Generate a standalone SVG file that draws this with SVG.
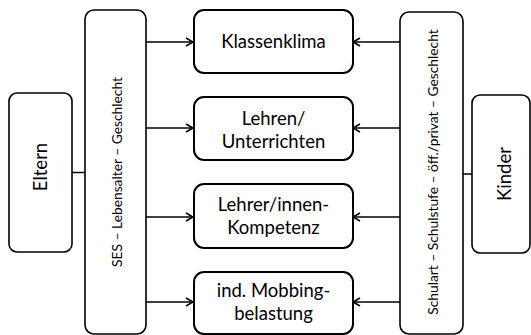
<svg xmlns="http://www.w3.org/2000/svg" width="531" height="335" viewBox="0 0 531 335">
<style>
.side{fill:#fff;stroke:#000;stroke-width:1.6}
.mid{fill:#fff;stroke:#000;stroke-width:2}
.t{font-family:Lato,"Open Sans",sans-serif;font-size:18.5px;fill:#000;text-anchor:middle}
.s{font-family:Lato,"Open Sans",sans-serif;font-size:13.8px;fill:#000;text-anchor:middle}
.c{stroke:#000;stroke-width:1.5;fill:none}
</style>
<defs>
<marker id="a" markerWidth="10" markerHeight="10" refX="8" refY="5" orient="auto" markerUnits="userSpaceOnUse">
<path d="M1,1 L8,5 L1,9" fill="none" stroke="#000" stroke-width="1.5"/>
</marker>
</defs>
<g id="connectors">
<line class="c" x1="72" y1="172.5" x2="85" y2="172.5"/>
<line class="c" x1="463" y1="174" x2="472" y2="174"/>
<line class="c" x1="146" y1="42" x2="193" y2="42" marker-end="url(#a)"/>
<line class="c" x1="146" y1="128" x2="193" y2="128" marker-end="url(#a)"/>
<line class="c" x1="146" y1="217" x2="193" y2="217" marker-end="url(#a)"/>
<line class="c" x1="146" y1="302" x2="193" y2="302" marker-end="url(#a)"/>
<line class="c" x1="400" y1="42" x2="353" y2="42" marker-end="url(#a)"/>
<line class="c" x1="400" y1="128" x2="353" y2="128" marker-end="url(#a)"/>
<line class="c" x1="400" y1="217" x2="353" y2="217" marker-end="url(#a)"/>
<line class="c" x1="400" y1="302" x2="353" y2="302" marker-end="url(#a)"/>
</g>
<g id="eltern">
<rect class="side" x="9" y="93" width="63" height="159" rx="8"/>
<text class="t" transform="translate(47,167) rotate(-90)">Eltern</text>
</g>
<g id="ses">
<rect class="side" x="85" y="10" width="61" height="324" rx="9"/>
<text class="s" transform="translate(121.5,172) rotate(-90)">SES – Lebensalter – Geschlecht</text>
</g>
<g id="klassenklima">
<rect class="mid" x="194" y="10" width="159" height="63" rx="10"/>
<text class="t" x="273.5" y="47.5">Klassenklima</text>
</g>
<g id="lehren">
<rect class="mid" x="194" y="97" width="159" height="63" rx="10"/>
<text class="t" x="273.5" y="125">Lehren/</text>
<text class="t" x="273.5" y="148">Unterrichten</text>
</g>
<g id="kompetenz">
<rect class="mid" x="194" y="184" width="159" height="64" rx="10"/>
<text class="t" x="273.5" y="211">Lehrer/innen-</text>
<text class="t" x="273.5" y="234">Kompetenz</text>
</g>
<g id="mobbing">
<rect class="mid" x="194" y="272" width="159" height="62" rx="10"/>
<text class="t" x="273.5" y="297">ind. Mobbing-</text>
<text class="t" x="273.5" y="320">belastung</text>
</g>
<g id="schule">
<rect class="side" x="400" y="12" width="63" height="322" rx="9"/>
<text class="s" transform="translate(437.5,172) rotate(-90)">Schulart – Schulstufe – öff./privat – Geschlecht</text>
</g>
<g id="kinder">
<rect class="side" x="472" y="95" width="58" height="158" rx="8"/>
<text class="t" transform="translate(511,174) rotate(-90)">Kinder</text>
</g>
</svg>
